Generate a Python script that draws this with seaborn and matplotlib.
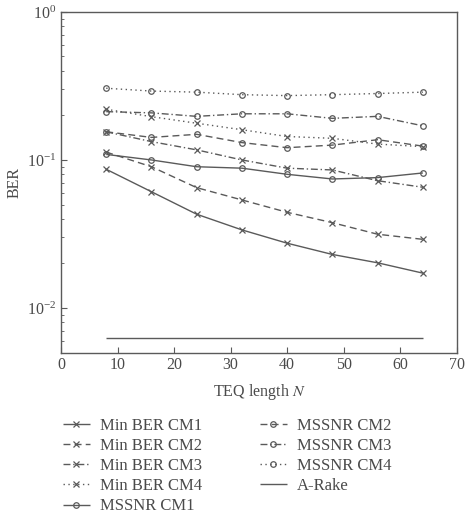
import matplotlib
matplotlib.use("Agg")
import matplotlib.pyplot as plt
import numpy as np
import pandas as pd
import seaborn as sns

# TEQ length values
teq_len = [8, 16, 24, 32, 40, 48, 56, 64]

# BER
min_ber_cm1 = [0.0865, 0.061, 0.043, 0.0337, 0.0274, 0.0230, 0.0202, 0.0172]
min_ber_cm2 = [0.113, 0.090, 0.065, 0.0537, 0.0443, 0.0377, 0.0315, 0.0291]
min_ber_cm3 = [0.155, 0.133, 0.117, 0.100, 0.088, 0.0856, 0.0724, 0.0654]
min_ber_cm4 = [0.220, 0.196, 0.177, 0.160, 0.144, 0.140, 0.128, 0.123]
mssnr_cm1 = [0.109, 0.100, 0.090, 0.088, 0.080, 0.0744, 0.076, 0.0817]
mssnr_cm2 = [0.155, 0.142, 0.149, 0.131, 0.121, 0.126, 0.137, 0.124]
mssnr_cm3 = [0.212, 0.208, 0.197, 0.205, 0.205, 0.191, 0.197, 0.170]
mssnr_cm4 = [0.305, 0.292, 0.287, 0.276, 0.272, 0.276, 0.281, 0.287]
a_rake = [0.0063] * 8

names = ["Min BER CM1", "Min BER CM2", "Min BER CM3", "Min BER CM4",
         "MSSNR CM1", "MSSNR CM2", "MSSNR CM3", "MSSNR CM4", "A-Rake"]
series = [min_ber_cm1, min_ber_cm2, min_ber_cm3, min_ber_cm4,
          mssnr_cm1, mssnr_cm2, mssnr_cm3, mssnr_cm4, a_rake]

solid = (0, ())
dashed = (0, (5, 3))
dashdot = (0, (5, 2, 1, 2))
dotted = (0, (1, 2.5))
styles = [solid, dashed, dashdot, dotted, solid, dashed, dashdot, dotted, solid]
marks = ["x", "x", "x", "x", "o", "o", "o", "o", None]

sns.set_style("white")
plt.rcParams["font.family"] = ["Liberation Serif", "DejaVu Serif"]
plt.rcParams["mathtext.fontset"] = "stix"

col = "#5a5a5a"
txt = "#4a4a4a"
fig = plt.figure(figsize=(4.69, 5.17), dpi=100)
ax = fig.add_axes([0.130, 0.318, 0.844, 0.659])

for name, vals, ls, mk in zip(names, series, styles, marks):
    d = pd.DataFrame({"N": teq_len, "BER": vals})
    sns.lineplot(data=d, x="N", y="BER", ax=ax, color=col, linestyle=ls,
                 marker=mk, markersize=4, markerfacecolor="none",
                 markeredgecolor=col, markeredgewidth=0.9, linewidth=1.0,
                 label=name)

ax.set_yscale("log")
ax.set_ylim(0.005, 1)
ax.set_xlim(0, 70)
ax.set_xticks(range(0, 71, 10))
ax.tick_params(which="both", direction="in", colors=col, labelcolor=txt, labelsize=11.5)
ax.tick_params(which="major", length=4)
ax.tick_params(which="minor", length=2)
ax.tick_params(axis="y", which="both", left=True)
ax.tick_params(axis="x", bottom=True)
for s in ax.spines.values():
    s.set_color(col)
    s.set_linewidth(1.0)
ax.set_xlabel("TEQ length $N$", fontsize=11.5, color=txt, labelpad=6)
ax.set_ylabel("BER", fontsize=11.5, color=txt, labelpad=3)

handles, labels = ax.get_legend_handles_labels()
ax.get_legend().remove()
fig.legend(handles, labels, ncol=2, loc="upper left", bbox_to_anchor=(0.134, 0.192),
           frameon=False, fontsize=12, handlelength=1.6, handletextpad=0.6,
           labelspacing=0.25, columnspacing=3.5, borderpad=0, borderaxespad=0,
           labelcolor=txt)

fig.savefig("out.png", dpi=100)
